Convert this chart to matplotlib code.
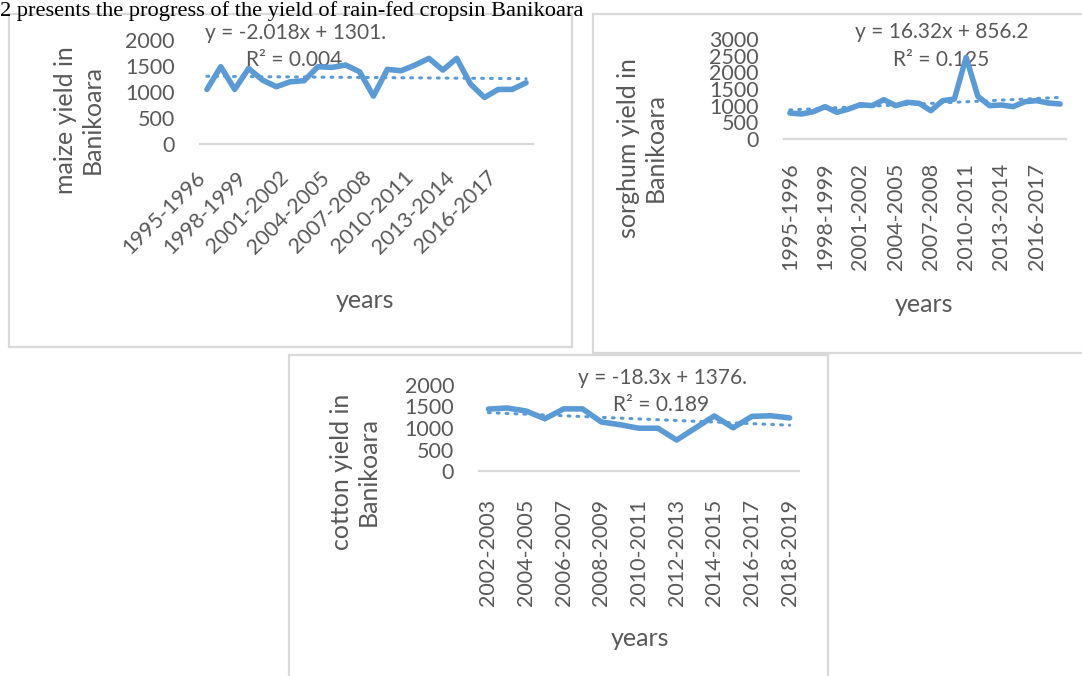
import matplotlib
matplotlib.use("Agg")
import matplotlib.pyplot as plt
from matplotlib.patches import Rectangle
from matplotlib.transforms import ScaledTranslation

# ---------------- data ----------------
maize_years = [f"{y}-{y + 1}" for y in range(1995, 2019)]
maize_yield = [1045, 1484, 1045, 1451, 1226, 1097, 1193, 1213, 1484, 1471, 1516, 1387,
               916, 1432, 1406, 1516, 1645, 1419, 1645, 1148, 890, 1045, 1045, 1174]
maize_trend = (-2.018, 1301.0)

sorghum_years = [f"{y}-{y + 1}" for y in range(1995, 2019)]
sorghum_yield = [780, 750, 820, 970, 800, 900, 1030, 1000, 1180, 1000, 1100, 1070,
                 850, 1150, 1200, 2450, 1280, 1000, 1020, 970, 1120, 1150, 1080, 1050]
sorghum_trend = (16.32, 856.2)

cotton_years = [f"{y}-{y + 1}" for y in range(2002, 2019)]
cotton_yield = [1440, 1465, 1395, 1215, 1445, 1445, 1140, 1075, 995, 995, 720,
                1000, 1280, 1005, 1270, 1285, 1235]
cotton_trend = (-18.3, 1376.0)

maize_eq = ["y = -2.018x + 1301.", "R² = 0.004"]
sorghum_eq = ["y = 16.32x + 856.2", "R² = 0.125"]
cotton_eq = ["y = -18.3x + 1376.", "R² = 0.189"]

caption = "2 presents the progress of the yield of rain-fed cropsin Banikoara"

# ---------------- style ----------------
W, H = 1082, 676
BLUE = "#5B9BD5"
GREY_TXT = "#595959"
GREY_LINE = "#D9D9D9"
FONT = "Lato"
TICK_FS = 15.5
EQ_FS = 15
TITLE_FS = 18

fig = plt.figure(figsize=(W / 100, H / 100), dpi=100)
fig.patch.set_facecolor("white")


def fbox(x0, y0, x1, y1):
    """Pixel box (top-left origin) -> figure fraction rect."""
    return [x0 / W, 1 - y1 / H, (x1 - x0) / W, (y1 - y0) / H]


def fx(x):
    return x / W


def fy(y):
    return 1 - y / H


def frame(x0, y0, x1, y1, z):
    fig.patches.append(Rectangle((x0 / W, 1 - y1 / H), (x1 - x0) / W, (y1 - y0) / H,
                                 transform=fig.transFigure, facecolor="white",
                                 edgecolor=GREY_LINE, linewidth=1.6, zorder=z))


def chart(rect, years, values, trend, ymax, ystep, tick_every, rot, pad, shift=(0, 0)):
    ax = fig.add_axes(fbox(*rect), zorder=2)
    ax.patch.set_visible(False)
    n = len(values)
    xs = list(range(n))
    slope, icpt = trend
    trend_vals = [slope * (i + 1) + icpt for i in xs]
    ax.plot(xs, trend_vals, color=BLUE, linewidth=2.2, linestyle=(0, (0.6, 2.3)),
            dash_capstyle="round", solid_capstyle="round")
    ax.plot(xs, values, color=BLUE, linewidth=4.0, solid_joinstyle="round",
            solid_capstyle="round")
    ax.set_xlim(-0.5, n - 0.5)
    ax.set_ylim(0, ymax)
    ax.set_yticks(range(0, ymax + 1, ystep))
    ax.set_xticks(xs[::tick_every])
    if rot == 45:
        ax.set_xticklabels(years[::tick_every], rotation=45, ha="right", va="top",
                           rotation_mode="anchor")
    else:
        ax.set_xticklabels(years[::tick_every], rotation=90, ha="center", va="top")
    for s in ("left", "right", "top"):
        ax.spines[s].set_visible(False)
    ax.spines["bottom"].set_color(GREY_LINE)
    ax.spines["bottom"].set_linewidth(1.6)
    ax.tick_params(axis="both", length=0, labelsize=TICK_FS, labelcolor=GREY_TXT)
    ax.tick_params(axis="y", pad=18)
    ax.tick_params(axis="x", pad=pad)
    off = ScaledTranslation(shift[0] / 100, -shift[1] / 100, fig.dpi_scale_trans)
    for lab in ax.get_xticklabels():
        lab.set_fontfamily(FONT)
        lab.set_transform(lab.get_transform() + off)
    for lab in ax.get_yticklabels():
        lab.set_fontfamily(FONT)
    return ax


def label_text(x, y, s, **kw):
    fig.text(fx(x), fy(y), s, fontsize=kw.pop("fontsize", EQ_FS), family=FONT,
             color=GREY_TXT, zorder=1, **kw)


# caption line at the top
fig.text(fx(0), fy(16), caption, family="Liberation Serif", fontsize=16.1,
         color="black", ha="left", va="baseline")

# panel frames
frame(9, 14, 572, 347, -3)
frame(593, 14, 1086, 353, -3)
frame(289, 355, 828, 682, -2)

# maize
chart((200, 40, 533, 143.5), maize_years, maize_yield, maize_trend,
      2000, 500, 3, 45, 10, shift=(-12, 10))
label_text(205, 33, maize_eq[0], ha="left", va="center")
label_text(246, 60, maize_eq[1], ha="left", va="center")
label_text(79, 120, "maize yield in\nBanikoara", rotation=90, ha="center",
           va="center", fontsize=TITLE_FS, multialignment="center")
label_text(365, 300, "years", ha="center", va="center", fontsize=TITLE_FS)

# sorghum
chart((784, 39, 1066, 139), sorghum_years, sorghum_yield, sorghum_trend,
      3000, 500, 3, 90, 17)
label_text(855, 32, sorghum_eq[0], ha="left", va="center")
label_text(893, 60, sorghum_eq[1], ha="left", va="center")
label_text(642, 148, "sorghum yield in\nBanikoara", rotation=90, ha="center",
           va="center", fontsize=TITLE_FS, multialignment="center")
label_text(924, 305, "years", ha="center", va="center", fontsize=TITLE_FS)

# cotton
chart((479, 385, 799, 471), cotton_years, cotton_yield, cotton_trend,
      2000, 500, 2, 90, 20)
label_text(578, 378, cotton_eq[0], ha="left", va="center")
label_text(613, 405, cotton_eq[1], ha="left", va="center")
label_text(355, 472, "cotton yield in\nBanikoara", rotation=90, ha="center",
           va="center", fontsize=TITLE_FS, multialignment="center")
label_text(640, 638, "years", ha="center", va="center", fontsize=TITLE_FS)

fig.savefig("out.png", dpi=100, facecolor="white")
